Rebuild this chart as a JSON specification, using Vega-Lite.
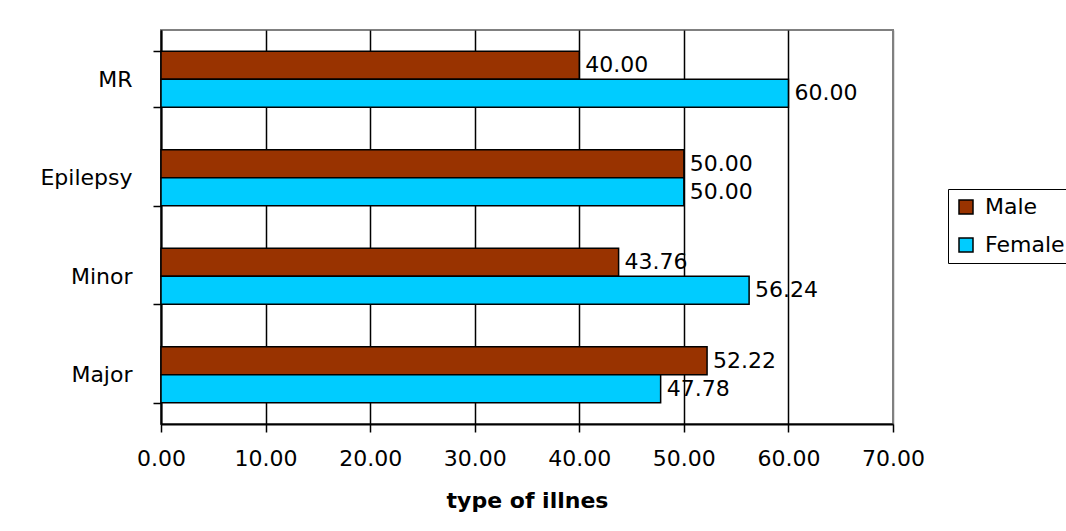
{
  "$schema": "https://vega.github.io/schema/vega-lite/v6.json",
  "width": 732,
  "height": 394,
  "autosize": {"type": "none"},
  "padding": {"left": 161, "top": 30, "right": 173, "bottom": 107},
  "background": "white",
  "config": {
    "font": "DejaVu Sans",
    "view": {"stroke": "#808080", "strokeWidth": 2}
  },
  "data": {
    "values": [
      {"illness": "MR", "sex": "Male", "pct": 40.00},
      {"illness": "MR", "sex": "Female", "pct": 60.00},
      {"illness": "Epilepsy", "sex": "Male", "pct": 50.00},
      {"illness": "Epilepsy", "sex": "Female", "pct": 50.00},
      {"illness": "Minor", "sex": "Male", "pct": 43.76},
      {"illness": "Minor", "sex": "Female", "pct": 56.24},
      {"illness": "Major", "sex": "Male", "pct": 52.22},
      {"illness": "Major", "sex": "Female", "pct": 47.78}
    ]
  },
  "encoding": {
    "y": {
      "field": "illness",
      "type": "nominal",
      "sort": ["MR", "Epilepsy", "Minor", "Major"],
      "scale": {"paddingInner": 0.43, "paddingOuter": 0.215},
      "axis": {
        "title": null,
        "tickBand": "extent",
        "tickSize": 8,
        "tickWidth": 1.5,
        "tickColor": "black",
        "domainColor": "black",
        "domainWidth": 2,
        "labelFontSize": 22,
        "labelColor": "black",
        "labelPadding": 21,
        "grid": false
      }
    },
    "yOffset": {
      "field": "sex",
      "type": "nominal",
      "sort": ["Male", "Female"],
      "scale": {"paddingInner": 0, "paddingOuter": 0}
    },
    "x": {
      "field": "pct",
      "type": "quantitative",
      "scale": {"domain": [0, 70], "nice": false},
      "axis": {
        "values": [0, 10, 20, 30, 40, 50, 60, 70],
        "format": ".2f",
        "labelFlush": false,
        "grid": true,
        "gridColor": {"condition": {"test": "datum.value == 70", "value": "#808080"}, "value": "black"},
        "gridWidth": 1.5,
        "gridOpacity": 1,
        "domainColor": "black",
        "domainWidth": 2,
        "tickColor": "black",
        "tickSize": 8,
        "tickWidth": 1.5,
        "labelFontSize": 22,
        "labelColor": "black",
        "labelPadding": 16,
        "title": "type of illnes",
        "titleFontSize": 22,
        "titleFontWeight": "bold",
        "titleColor": "black",
        "titlePadding": 21
      }
    }
  },
  "layer": [
    {
      "mark": {"type": "bar", "stroke": "black", "strokeWidth": 1.5},
      "encoding": {
        "color": {
          "field": "sex",
          "type": "nominal",
          "sort": ["Male", "Female"],
          "scale": {"domain": ["Male", "Female"], "range": ["#993300", "#00CCFF"]},
          "legend": {
            "title": null,
            "orient": "none",
            "legendX": 787,
            "legendY": 159,
            "strokeColor": "black",
            "fillColor": "white",
            "padding": 7,
            "symbolType": "square",
            "symbolSize": 196,
            "symbolStrokeColor": "black",
            "symbolStrokeWidth": 1.5,
            "symbolOpacity": 1,
            "labelFontSize": 22,
            "labelColor": "black",
            "labelOffset": 8,
            "rowPadding": 16
          }
        }
      }
    },
    {
      "mark": {"type": "text", "align": "left", "baseline": "middle", "dx": 6, "fontSize": 22, "color": "black"},
      "encoding": {
        "text": {"field": "pct", "type": "quantitative", "format": ".2f"}
      }
    }
  ]
}
